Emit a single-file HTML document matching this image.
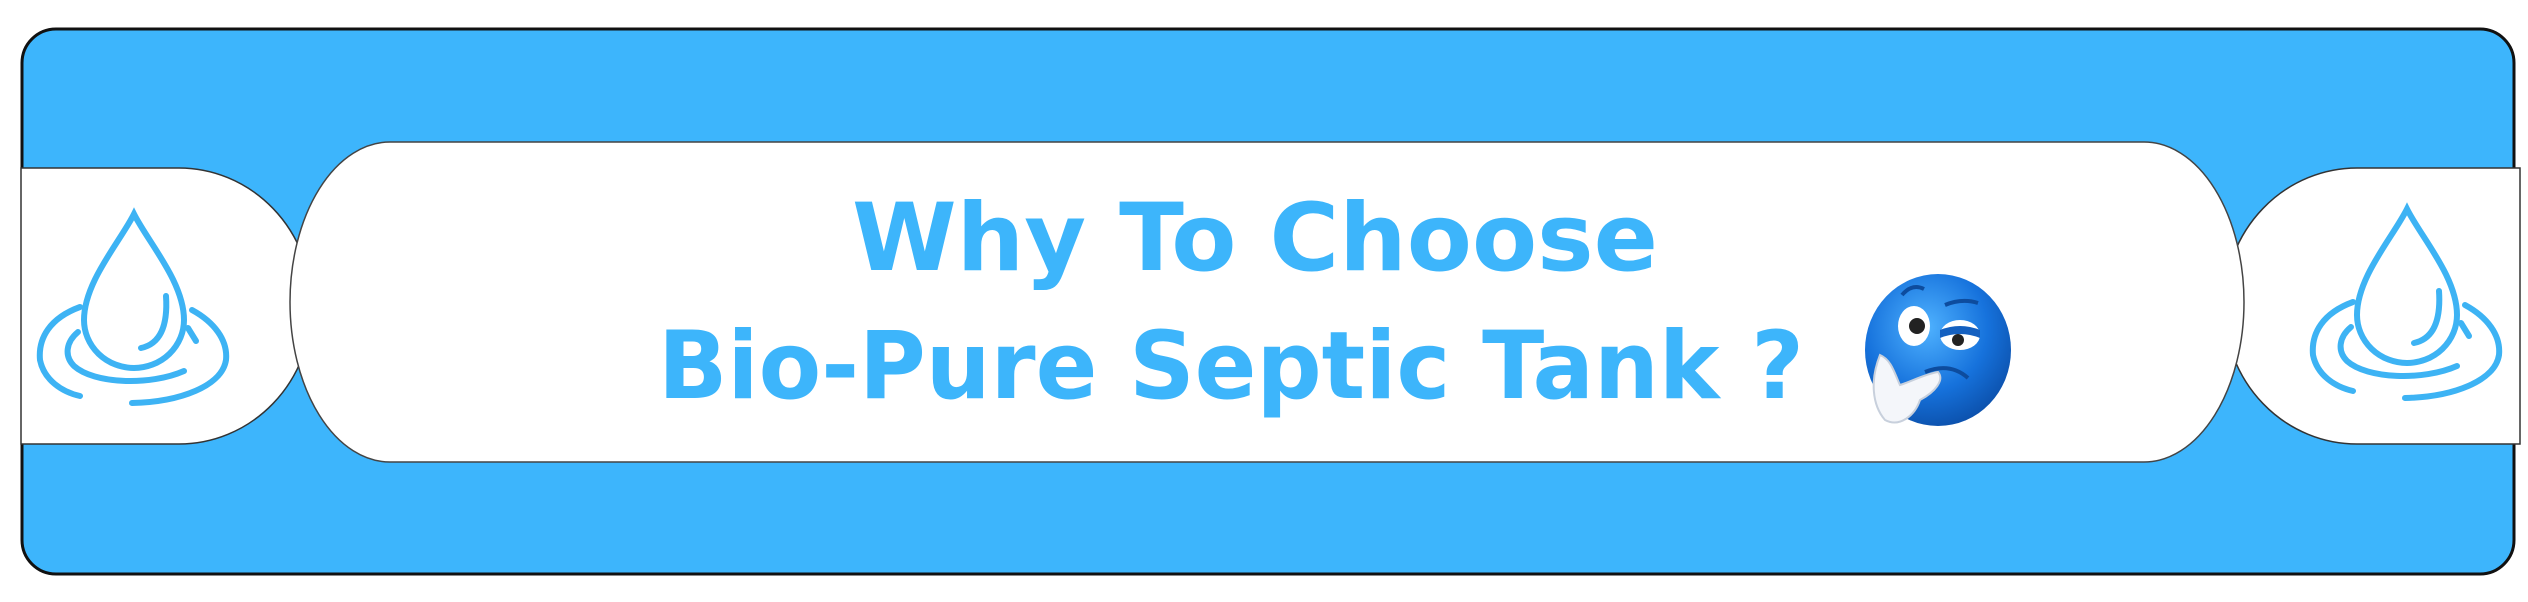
<!DOCTYPE html>
<html><head><meta charset="utf-8"><style>
html,body{margin:0;padding:0;background:#fff;width:2528px;height:602px;overflow:hidden}
svg{display:block}
</style></head><body>
<svg width="2528" height="602" viewBox="0 0 2528 602">
<defs>
<radialGradient id="face" cx="0.42" cy="0.35" r="0.7">
<stop offset="0" stop-color="#4fb2ff"/><stop offset="0.6" stop-color="#1672dc"/><stop offset="1" stop-color="#0b4ea8"/>
</radialGradient>
<g id="drop" fill="none" stroke="#3db3f4" stroke-width="6" stroke-linecap="round">
<path d="M134,214 C120,242 84,282 84,320 A50,48 0 0 0 184,320 C184,282 148,242 134,214 Z"/>
<path d="M166,296 C168,326 160,344 141,348"/>
<path d="M80,307 C50,318 38,338 40,360 C44,380 62,392 80,396"/>
<path d="M132,403 C180,402 222,386 226,360 C228,340 214,322 192,310"/>
<path d="M78,332 C66,342 64,356 74,366 C94,384 150,386 184,371"/>
<path d="M188,328 L196,341"/>
</g>
</defs>
<rect x="22" y="29" width="2492" height="545" rx="34" fill="#3db5fc" stroke="#111" stroke-width="3"/>
<path d="M21,168 H179 A133,138 0 0 1 179,444 H21 Z" fill="#fff" stroke="#333" stroke-width="1.5"/>
<path d="M2520,168 H2357 A133,138 0 0 0 2357,444 H2520 Z" fill="#fff" stroke="#333" stroke-width="1.5"/>
<rect x="290" y="142" width="1954" height="320" rx="100" ry="160" fill="#fff" stroke="#444" stroke-width="1.5"/>
<use href="#drop"/>
<use href="#drop" transform="translate(2273,-5)"/>
<text x="852" y="270" textLength="806" lengthAdjust="spacingAndGlyphs" font-family="'DejaVu Sans','Liberation Sans',sans-serif" font-weight="bold" font-size="94" fill="#3db5fb">Why To Choose</text>
<text x="658" y="398" textLength="1146" lengthAdjust="spacingAndGlyphs" font-family="'DejaVu Sans','Liberation Sans',sans-serif" font-weight="bold" font-size="94" fill="#3db5fb">Bio-Pure Septic Tank ?</text>
<g>
<ellipse cx="1938" cy="350" rx="73" ry="76" fill="url(#face)"/>
<ellipse cx="1914" cy="326" rx="16" ry="20" fill="#fff"/>
<circle cx="1917" cy="326" r="8" fill="#222"/>
<ellipse cx="1960" cy="335" rx="20" ry="15" fill="#fff"/>
<path d="M1940,330 Q1960,322 1980,330 L1980,338 Q1960,330 1940,338 Z" fill="#1460c0"/>
<circle cx="1958" cy="340" r="6" fill="#222"/>
<path d="M1902,295 Q1912,283 1924,289" stroke="#0d4c9e" stroke-width="4" fill="none"/>
<path d="M1945,305 Q1962,298 1978,303" stroke="#0d4c9e" stroke-width="4" fill="none"/>
<path d="M1925,372 Q1950,362 1968,378" stroke="#0d4c9e" stroke-width="4" fill="none"/>
<path d="M1880,355 C1870,380 1872,405 1885,420 C1900,428 1915,415 1920,400 C1935,392 1945,380 1938,372 C1925,374 1910,382 1900,385 C1895,375 1892,360 1880,355 Z" fill="#f4f6fa" stroke="#c8d0dc" stroke-width="2"/>
</g>
</svg>
</body></html>
